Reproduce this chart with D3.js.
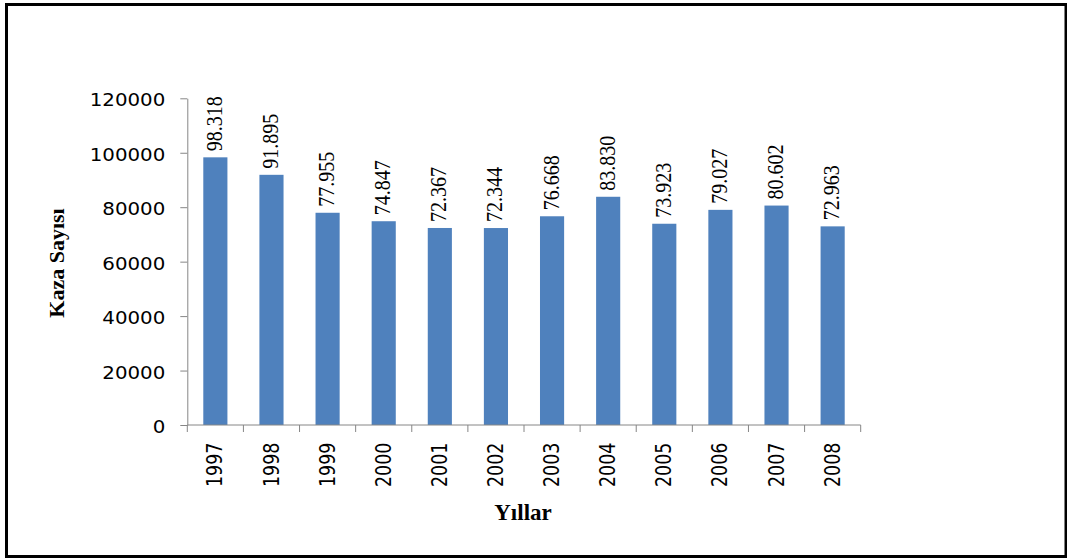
<!DOCTYPE html>
<html><head><meta charset="utf-8">
<script src="https://cdn.jsdelivr.net/npm/d3@7/dist/d3.min.js"></script>
<style>html,body{margin:0;padding:0;background:#fff;}svg{display:block;}</style>
</head><body>
<script>
const years = ["1997","1998","1999","2000","2001","2002","2003","2004","2005","2006","2007","2008"];
const accidents = [98318,91895,77955,74847,72367,72344,76668,83830,73923,79027,80602,72963];
const valueLabels = ["98.318","91.895","77.955","74.847","72.367","72.344","76.668","83.830","73.923","79.027","80.602","72.963"];
const yTicks = [0,20000,40000,60000,80000,100000,120000];
const yTitle = "Kaza Sayısı";
const xTitle = "Yıllar";

const W = 1067, H = 558;
const svg = d3.select("body").append("svg").attr("width", W).attr("height", H);

svg.append("rect").attr("x", 6.5).attr("y", 4.5).attr("width", 1059.5).attr("height", 552)
  .attr("fill", "#fff").attr("stroke", "#000").attr("stroke-width", 3);

const x0 = 187.3, x1 = 860.7, yTop = 98.3, yBot = 425;
const x = d3.scaleBand().domain(years).range([x0, x1]).paddingInner(0.57).paddingOuter(0.285);
const y = d3.scaleLinear().domain([0, 120000]).range([yBot, yTop]);

const axisColor = "#868686";

// bars
svg.append("g").selectAll("rect").data(accidents).join("rect")
  .attr("x", (d, i) => x(years[i]))
  .attr("y", d => y(d))
  .attr("width", x.bandwidth())
  .attr("height", d => yBot - y(d))
  .attr("fill", "#4F81BD");

// y axis
const gy = svg.append("g").attr("transform", `translate(${x0},0)`)
  .call(d3.axisLeft(y).tickValues(yTicks).tickSize(7).tickSizeOuter(0).tickFormat(d => String(d)));
gy.select(".domain").attr("stroke", axisColor);
gy.selectAll(".tick line").attr("stroke", axisColor);
gy.selectAll(".tick text")
  .attr("x", null).attr("dy", null)
  .attr("text-anchor", "end")
  .attr("dominant-baseline", "central")
  .attr("transform", "translate(-22,1) scale(1.1,1)")
  .attr("font-family", "'DejaVu Sans', Verdana, sans-serif")
  .attr("font-size", 18)
  .attr("fill", "#000");

// x axis with boundary ticks
const gx = svg.append("g").attr("transform", `translate(0,${yBot})`);
gx.append("line").attr("x1", x0).attr("x2", x1).attr("y1", 0).attr("y2", 0).attr("stroke", axisColor);
const step = x.step();
const bounds = d3.range(years.length + 1).map(i => x0 + x.paddingOuter() * 0 + i * (x1 - x0) / years.length);
gx.selectAll("line.tk").data(bounds).join("line").attr("class", "tk")
  .attr("x1", d => d).attr("x2", d => d).attr("y1", 0).attr("y2", 7).attr("stroke", axisColor);

const gxl = svg.append("g").attr("transform", `translate(0,${yBot})`)
  .call(d3.axisBottom(x).tickSize(0).tickSizeOuter(0));
gxl.select(".domain").remove();
gxl.selectAll(".tick text")
  .attr("y", null).attr("dy", null)
  .attr("text-anchor", "end")
  .attr("dominant-baseline", "central")
  .attr("transform", "translate(0,17.5) scale(1.2,1) rotate(-90)")
  .attr("font-family", "'DejaVu Sans', Verdana, sans-serif")
  .attr("font-size", 17.5)
  .attr("fill", "#000");

// value labels
svg.append("g").selectAll("text").data(accidents).join("text")
  .attr("transform", (d, i) => `translate(${x(years[i]) + x.bandwidth() / 2 - 1},${y(d) - 6}) scale(1.15,1) rotate(-90)`)
  .attr("text-anchor", "start")
  .attr("dominant-baseline", "central")
  .attr("font-family", "'Liberation Serif', 'Times New Roman', serif")
  .attr("font-size", 20)
  .attr("fill", "#000")
  .text((d, i) => valueLabels[i]);

// axis titles
svg.append("text")
  .attr("transform", `translate(64,263) rotate(-90)`)
  .attr("text-anchor", "middle")
  .attr("font-family", "'Liberation Serif', 'Times New Roman', serif")
  .attr("font-weight", "bold")
  .attr("font-size", 22)
  .attr("fill", "#000")
  .text(yTitle);

svg.append("text")
  .attr("x", 523).attr("y", 520)
  .attr("text-anchor", "middle")
  .attr("font-family", "'Liberation Serif', 'Times New Roman', serif")
  .attr("font-weight", "bold")
  .attr("font-size", 23)
  .attr("fill", "#000")
  .text(xTitle);
</script>
</body></html>
